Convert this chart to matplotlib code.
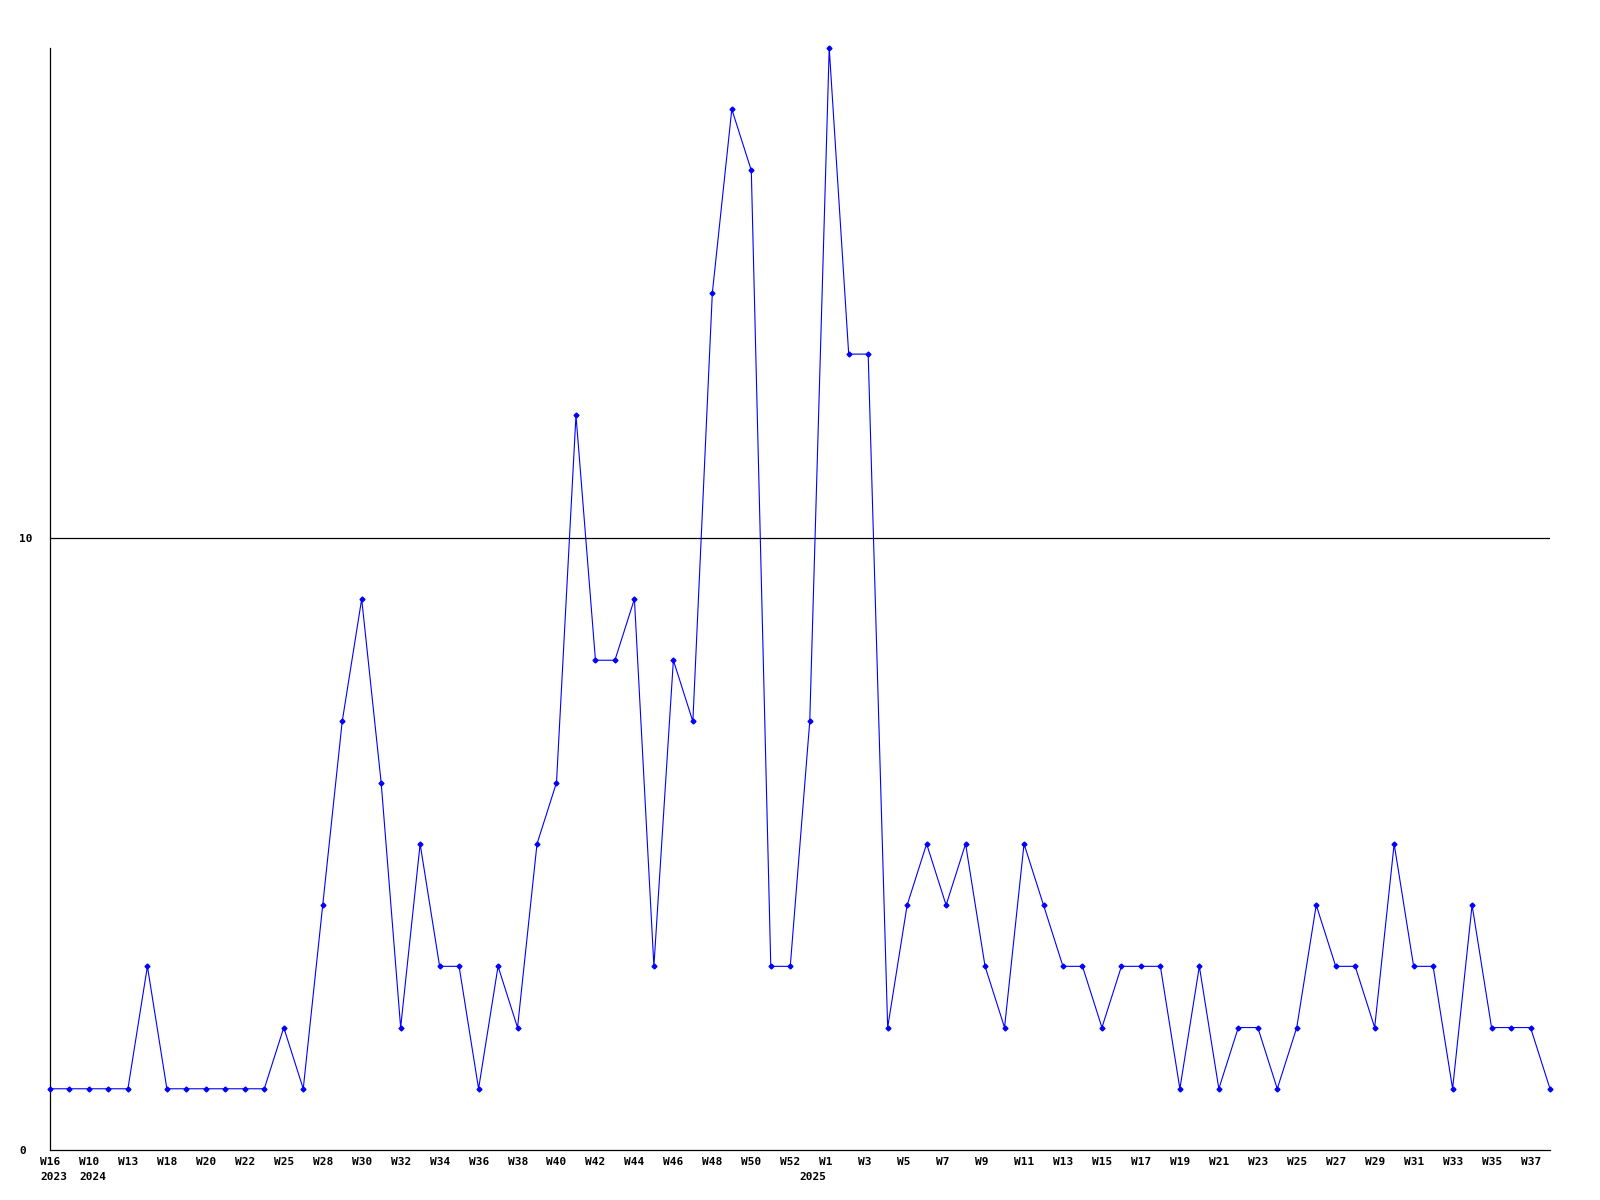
import matplotlib
matplotlib.use("Agg")
import matplotlib.pyplot as plt
import matplotlib.transforms as mtransforms
import numpy as np

## data ##
values = [1, 1, 1, 1, 1, 3, 1, 1, 1, 1, 1, 1, 2, 1, 4, 7, 9, 6, 2, 5,
          3, 3, 1, 3, 2, 5, 6, 12, 8, 8, 9, 3, 8, 7, 14, 17, 16, 3, 3, 7,
          18, 13, 13, 2, 4, 5, 4, 5, 3, 2, 5, 4, 3, 3, 2, 3, 3, 3, 1, 3,
          1, 2, 2, 1, 2, 4, 3, 3, 2, 5, 3, 3, 1, 4, 2, 2, 2, 1]

week_labels = ["W16", "W10", "W13", "W18", "W20", "W22", "W25", "W28", "W30", "W32",
               "W34", "W36", "W38", "W40", "W42", "W44", "W46", "W48", "W50", "W52",
               "W1", "W3", "W5", "W7", "W9", "W11", "W13", "W15", "W17", "W19",
               "W21", "W23", "W25", "W27", "W29", "W31", "W33", "W35", "W37"]

# year label -> point index
year_labels = {0: "2023", 2: "2024", 39: "2025"}

ytick_vals = [0, 10]

## plot ##
x = np.arange(len(values))

fig = plt.figure(figsize=(16, 12), dpi=100)
ax = fig.add_axes([50/1600, 1 - 1150/1200, 1500/1600, 1102/1200])

font = dict(family="DejaVu Sans Mono", weight="bold", size=8)

ax.axhline(10, color="black", lw=0.9, zorder=1)
ax.plot(x, values, color="#0000ff", lw=0.8, marker="D", markersize=2.5,
        clip_on=False, zorder=3)

ax.set_xlim(0, len(values) - 1)
ax.set_ylim(0, 18)

for s in ["top", "right"]:
    ax.spines[s].set_visible(False)
for s in ["left", "bottom"]:
    ax.spines[s].set_linewidth(0.9)

# x labels: left aligned, starting a little left of the point
ax.set_xticks([])
trans = ax.get_xaxis_transform() + mtransforms.ScaledTranslation(-10/100, 0, fig.dpi_scale_trans)
week_pos = list(range(0, len(values), 2))
for i, lab in zip(week_pos, week_labels):
    ax.text(i, 0, lab, transform=trans + mtransforms.ScaledTranslation(0, -7/100, fig.dpi_scale_trans),
            ha="left", va="top", **font)
for i, lab in year_labels.items():
    ax.text(i, 0, lab, transform=trans + mtransforms.ScaledTranslation(0, -22/100, fig.dpi_scale_trans),
            ha="left", va="top", **font)

ax.set_yticks(ytick_vals, [str(v) for v in ytick_vals])
ax.tick_params(axis="y", length=0, pad=22)
for t in ax.get_yticklabels():
    t.set_fontproperties(matplotlib.font_manager.FontProperties(**font))
    t.set_horizontalalignment("left")

fig.savefig("out.png", dpi=100)
